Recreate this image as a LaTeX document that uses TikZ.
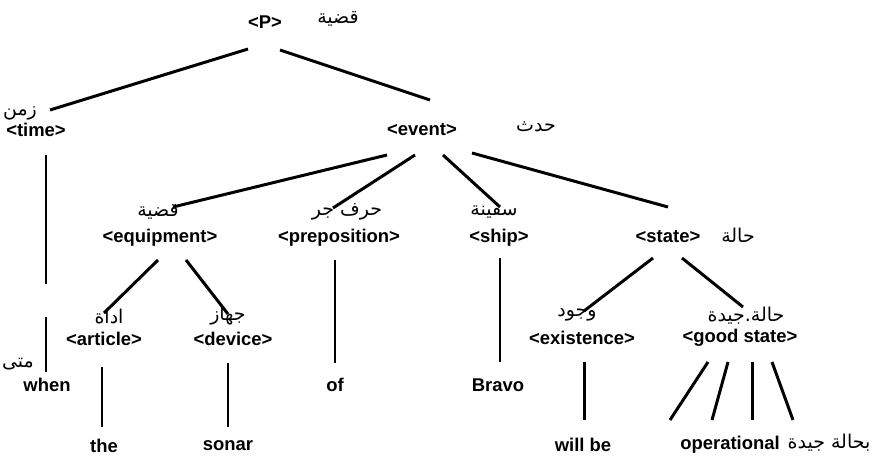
\documentclass[tikz,border=0pt]{standalone}
\usepackage{fontspec}
\setmainfont{Liberation Sans}
\newfontfamily\arabicfont[Script=Arabic]{DejaVu Sans}
\TeXXeTstate=1
\usetikzlibrary{calc}
\newcommand{\arab}[1]{{\arabicfont\beginR #1\endR}}% Arabic gloss

\begin{document}
\begin{tikzpicture}[x=0.02cm,y=-0.02cm,
  every node/.style={inner sep=0pt,outer sep=0pt,font=\bfseries\fontsize{10.5}{12}\selectfont},
  gloss/.style={font=\fontsize{10.8}{12}\selectfont},
  branch/.style={line width=1.7pt}]
\useasboundingbox (0,0) rectangle (879,457);
%
% categories
\node (p) at (265,22) {<P>};
\node[gloss] (pAr) at (338,19) {\arab{قضية}};
\node (time) at (36,130) {<time>};
\node[gloss] (timeAr) at (20,113) {\arab{زمن}};
\node (event) at (422,130) {<event>};
\node[gloss] (eventAr) at (536,127) {\arab{حدث}};
\node (equip) at (160,238) {<equipment>};
\node[gloss] (equipAr) at (158,212) {\arab{قضية}};
\node (prep) at (339,238) {<preposition>};
\node[gloss] (prepAr) at (347,212) {\arab{حرف جر}};
\node (ship) at (499,238) {<ship>};
\node[gloss] (shipAr) at (494,212) {\arab{سفينة}};
\node (state) at (668,237) {<state>};
\node[gloss] (stateAr) at (738,235) {\arab{حالة}};
\node (article) at (104,339) {<article>};
\node[gloss] (articleAr) at (109,317) {\arab{اداة}};
\node (device) at (233,339) {<device>};
\node[gloss] (deviceAr) at (228,316) {\arab{جهاز}};
\node (exist) at (582,338) {<existence>};
\node[gloss] (existAr) at (577,315) {\arab{وجود}};
\node (good) at (740,338) {<good state>};
\node[gloss] (goodAr) at (746,316) {\arab{حالة.جيدة}};
%
% words
\node (when) at (47,385) {when};
\node[gloss] (whenAr) at (18,364) {\arab{متى}};
\node (of) at (335,385) {of};
\node (bravo) at (498,385) {Bravo};
\node (the) at (104,446) {the};
\node (sonar) at (228,446) {sonar};
\node (willbe) at (583,445) {will be};
\node (oper) at (730,445) {operational};
\node[gloss] (operAr) at (829,443) {\arab{بحالة جيدة}};
%
% branches
\draw[branch] ($(p)+(-17,27)$) -- ($(time)+(14,-20)$);
\draw[branch] ($(p)+(15,28)$) -- ($(event)+(8,-30)$);
\coordinate (gapA) at ($(time)+(10,154)$);
\coordinate (gapB) at ($(time)+(10,187)$);
\draw[branch] ($(time)+(10,25)$) -- (gapA);
\draw[branch] (gapB) -- ($(when)+(-1,-13)$);
%
\draw[branch] ($(event)+(-35,25)$) -- ($(equip)+(13,-31)$);
\draw[branch] ($(event)+(-7,25)$) -- ($(prep)+(-6,-30)$);
\draw[branch] ($(event)+(21,25)$) -- ($(ship)+(1,-31)$);
\draw[branch] ($(event)+(50,23)$) -- ($(state)+(0,-30)$);
%
\draw[branch] ($(equip)+(-2,22)$) -- ($(article)+(0,-26)$);
\draw[branch] ($(equip)+(26,22)$) -- ($(device)+(-5,-25)$);
\draw[branch] ($(article)+(-2,28)$) -- ($(the)+(-2,-19)$);
\draw[branch] ($(device)+(-5,24)$) -- ($(sonar)+(0,-19)$);
\draw[branch] ($(prep)+(-4,22)$) -- ($(of)+(0,-22)$);
\draw[branch] ($(ship)+(1,20)$) -- ($(bravo)+(2,-23)$);
%
\draw[branch] ($(state)+(-15,21)$) -- ($(exist)+(2,-27)$);
\draw[branch] ($(state)+(14,21)$) -- ($(good)+(3,-31)$);
\draw[branch] ($(exist)+(2,24)$) -- ($(willbe)+(1,-25)$);
\foreach \gx/\ox in {-32/-60,-12/-18,12/22,32/63}
  \draw[branch] ($(good)+(\gx,24)$) -- ($(oper)+(\ox,-25)$);
\end{tikzpicture}
\end{document}
